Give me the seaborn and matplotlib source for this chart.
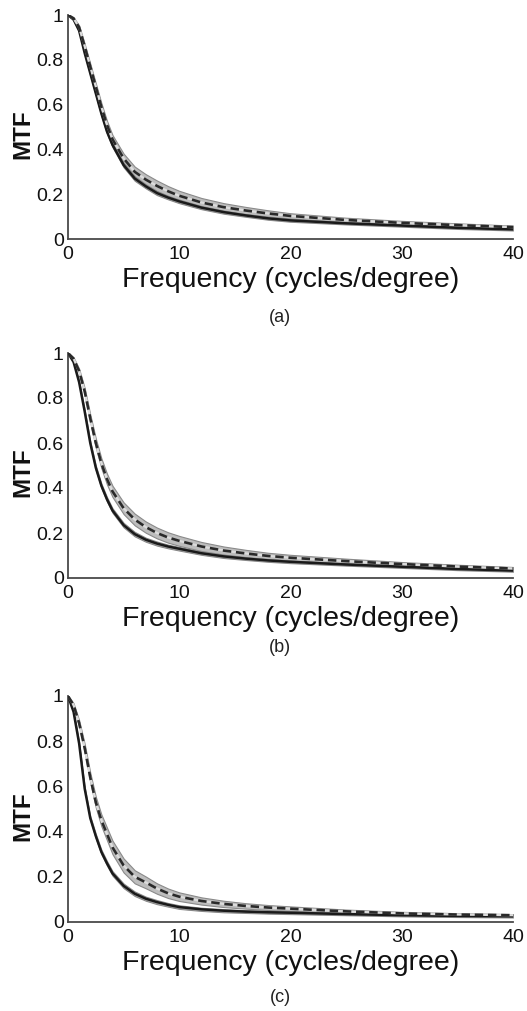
import matplotlib
matplotlib.use("Agg")
import numpy as np
import pandas as pd
import matplotlib.pyplot as plt
import seaborn as sns

# ---------------- data ----------------
freq = [0, 0.5, 1, 1.5, 2, 2.5, 3, 3.5, 4, 5, 6, 7, 8, 9, 10, 12, 14, 16, 18, 20, 25, 30, 35, 40]

a_solid = [1.0, 0.98, 0.93, 0.83, 0.74, 0.65, 0.56, 0.48, 0.42, 0.33, 0.27, 0.235, 0.205, 0.185, 0.168,
           0.14, 0.12, 0.105, 0.092, 0.083, 0.07, 0.06, 0.05, 0.043]
a_dashed = [1.0, 0.985, 0.945, 0.86, 0.77, 0.68, 0.59, 0.51, 0.445, 0.36, 0.30, 0.265, 0.237, 0.213, 0.193,
            0.163, 0.142, 0.127, 0.114, 0.103, 0.085, 0.072, 0.062, 0.053]

b_solid = [1.0, 0.96, 0.87, 0.74, 0.60, 0.49, 0.41, 0.35, 0.30, 0.235, 0.195, 0.17, 0.153, 0.14, 0.13,
           0.11, 0.096, 0.086, 0.078, 0.072, 0.06, 0.05, 0.04, 0.033]
b_dashed = [1.0, 0.975, 0.92, 0.83, 0.71, 0.60, 0.51, 0.44, 0.385, 0.31, 0.26, 0.226, 0.20, 0.18, 0.165,
            0.14, 0.122, 0.109, 0.098, 0.09, 0.075, 0.062, 0.051, 0.042]

c_solid = [1.0, 0.93, 0.79, 0.59, 0.46, 0.38, 0.31, 0.26, 0.215, 0.16, 0.125, 0.103, 0.088, 0.076, 0.066,
           0.056, 0.05, 0.046, 0.043, 0.041, 0.035, 0.03, 0.027, 0.025]
c_dashed = [1.0, 0.96, 0.88, 0.77, 0.64, 0.53, 0.45, 0.39, 0.33, 0.25, 0.20, 0.175, 0.148, 0.127, 0.112,
            0.093, 0.08, 0.071, 0.064, 0.059, 0.047, 0.038, 0.033, 0.03]

solid_err = [0, 0.004, 0.006, 0.008, 0.009, 0.01, 0.01, 0.01, 0.01, 0.01, 0.01, 0.009, 0.009, 0.008, 0.008,
             0.007, 0.007, 0.006, 0.006, 0.006, 0.005, 0.005, 0.005, 0.005]
a_dashed_err = [0, 0.005, 0.008, 0.011, 0.013, 0.015, 0.017, 0.018, 0.019, 0.021, 0.023, 0.024, 0.024, 0.023,
                0.022, 0.02, 0.018, 0.016, 0.014, 0.012, 0.01, 0.009, 0.008, 0.007]
b_dashed_err = [0, 0.006, 0.01, 0.014, 0.017, 0.02, 0.022, 0.024, 0.025, 0.026, 0.026, 0.025, 0.024, 0.023,
                0.022, 0.02, 0.018, 0.016, 0.014, 0.013, 0.011, 0.009, 0.008, 0.007]
c_dashed_err = [0, 0.008, 0.013, 0.018, 0.021, 0.024, 0.026, 0.028, 0.03, 0.031, 0.029, 0.026, 0.023, 0.021,
                0.019, 0.016, 0.014, 0.012, 0.011, 0.01, 0.008, 0.007, 0.006, 0.005]

panel_labels = ["(a)", "(b)", "(c)"]
x_ticks = [0, 10, 20, 30, 40]
x_tick_labels = ["0", "10", "20", "30", "40"]
y_ticks = [0, 0.2, 0.4, 0.6, 0.8, 1.0]
y_tick_labels = ["0", "0.2", "0.4", "0.6", "0.8", "1"]
x_label = "Frequency (cycles/degree)"
y_label = "MTF"

panels = [
    (a_solid, solid_err, a_dashed, a_dashed_err),
    (b_solid, solid_err, b_dashed, b_dashed_err),
    (c_solid, solid_err, c_dashed, c_dashed_err),
]

# ---------------- style ----------------
sns.set_style("white")
plt.rcParams["font.family"] = ["Liberation Sans", "DejaVu Sans"]

W, H = 527, 1011
fig = plt.figure(figsize=(W / 100, H / 100), dpi=100)

# axes boxes in pixels: (left, top, right, bottom)
boxes = [(68, 15, 513, 239), (68, 353, 513, 578), (68, 696, 513, 922)]
caption_y = [317, 648, 998]

for (solid, s_err, dashed, d_err), box, lab, cy in zip(panels, boxes, panel_labels, caption_y):
    l, t, r, b = box
    ax = fig.add_axes([l / W, 1 - b / H, (r - l) / W, (b - t) / H])
    df = pd.DataFrame({"freq": freq, "solid": solid, "dashed": dashed,
                       "s_err": s_err, "d_err": d_err})

    # shaded bands
    ax.fill_between(df["freq"], df["dashed"] - df["d_err"], df["dashed"] + df["d_err"],
                    facecolor="#bdbdbd", edgecolor="#8a8a8a", linewidth=0.8, zorder=1)
    ax.fill_between(df["freq"], df["solid"] - df["s_err"], df["solid"] + df["s_err"],
                    facecolor="#a8a8a8", edgecolor="#888888", linewidth=0.8, zorder=1)

    # lines
    sns.lineplot(data=df, x="freq", y="solid", ax=ax, color="#1a1a1a", linewidth=1.8, zorder=3)
    sns.lineplot(data=df, x="freq", y="dashed", ax=ax, color="#dcdcdc", linewidth=1.6, zorder=3)
    sns.lineplot(data=df, x="freq", y="dashed", ax=ax, color="#2a2a2a", linewidth=1.9,
                 zorder=4, linestyle=(0, (3.2, 1.8)))

    ax.set_xlim(0, 40)
    ax.set_ylim(0, 1)
    ax.set_xticks(x_ticks)
    ax.set_xticklabels(x_tick_labels, fontsize=14)
    ax.set_yticks(y_ticks)
    ax.set_yticklabels(y_tick_labels, fontsize=14)
    ax.tick_params(axis="x", length=0, pad=5, colors="#111111")
    ax.tick_params(axis="y", length=0, pad=3, colors="#111111")
    sns.despine(ax=ax)
    for sp in ["left", "bottom"]:
        ax.spines[sp].set_color("#4a4a4a")
        ax.spines[sp].set_linewidth(1.3)
    ax.set_xlabel(x_label, fontsize=20.5, color="#111111", labelpad=3)
    ax.set_ylabel(y_label, fontsize=17.5, fontweight="bold", color="#111111")
    ax.yaxis.set_label_coords(-34 / (r - l), 0.47)
    ax.set_facecolor("white")
    fig.text(280 / W, 1 - cy / H, lab, ha="center", va="center", fontsize=13, color="#222222")

fig.savefig("out.png", dpi=100, facecolor="white")
